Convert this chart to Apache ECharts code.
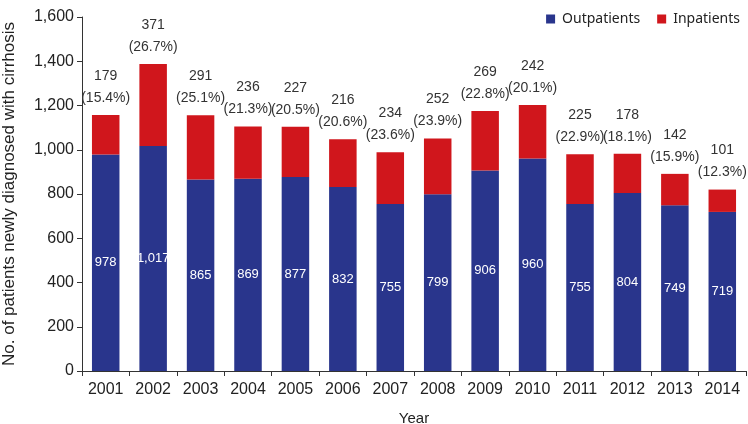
<!DOCTYPE html>
<html><head><meta charset="utf-8">
<script src="https://cdn.jsdelivr.net/npm/echarts@6/dist/echarts.min.js"></script>
<style>html,body{margin:0;padding:0;background:#fff}#c{width:748px;height:424px}</style>
</head><body><div id="c"></div>
<script>
const years = ['2001','2002','2003','2004','2005','2006','2007','2008','2009','2010','2011','2012','2013','2014'];
const outpatients = [978,1017,865,869,877,832,755,799,906,960,755,804,749,719];
const inpatients = [179,371,291,236,227,216,234,252,269,242,225,178,142,101];
const inpatientPct = [15.4,26.7,25.1,21.3,20.5,20.6,23.6,23.9,22.8,20.1,22.9,18.1,15.9,12.3];

const chart = echarts.init(document.getElementById('c'), null, {renderer:'canvas'});
const fmt = v => v.toLocaleString('en-US');
chart.setOption({
  animation:false,
  textStyle:{fontFamily:'Liberation Sans, Arial, sans-serif'},
  legend:{
    top:7, right:3, itemWidth:9, itemHeight:9, itemGap:17,
    icon:'rect',
    textStyle:{fontFamily:'Noto Sans', fontSize:14, color:'#222', padding:[0,0,0,2]},
    data:['Outpatients','Inpatients']
  },
  grid:{left:82, right:2, top:17, bottom:53, outerBoundsMode:'none', containLabel:false},
  xAxis:{
    type:'category', data:years,
    name:'Year', nameLocation:'middle', nameGap:40,
    nameTextStyle:{fontSize:15, color:'#222'},
    axisLine:{lineStyle:{color:'#333', width:1}},
    axisTick:{show:true, length:5, lineStyle:{color:'#333'}},
    axisLabel:{fontSize:16, color:'#222', margin:11}
  },
  yAxis:{
    type:'value', min:0, max:1600, interval:200,
    name:'No. of patients newly diagnosed with cirrhosis', nameLocation:'middle', nameGap:64,
    nameTextStyle:{fontSize:17, color:'#222'},
    axisLine:{show:true, lineStyle:{color:'#333'}},
    axisTick:{show:true, length:5, lineStyle:{color:'#333'}},
    splitLine:{show:false},
    axisLabel:{fontSize:16, color:'#222', margin:8, formatter:v=>fmt(v)}
  },
  series:[
    {name:'Outpatients', type:'bar', stack:'t', barWidth:'58%', data:outpatients,
     itemStyle:{color:'#29358c'},
     label:{show:true, position:'inside', color:'#fff', fontSize:13, formatter:p=>fmt(p.value)}},
    {name:'Inpatients', type:'bar', stack:'t', barWidth:'58%', data:inpatients,
     itemStyle:{color:'#d0161c'},
     label:{show:true, position:'top', distance:6, color:'#333', fontSize:14, lineHeight:22,
       formatter:p=>p.value+'\n('+inpatientPct[p.dataIndex].toFixed(1)+'%)'}}
  ]
});
</script></body></html>
